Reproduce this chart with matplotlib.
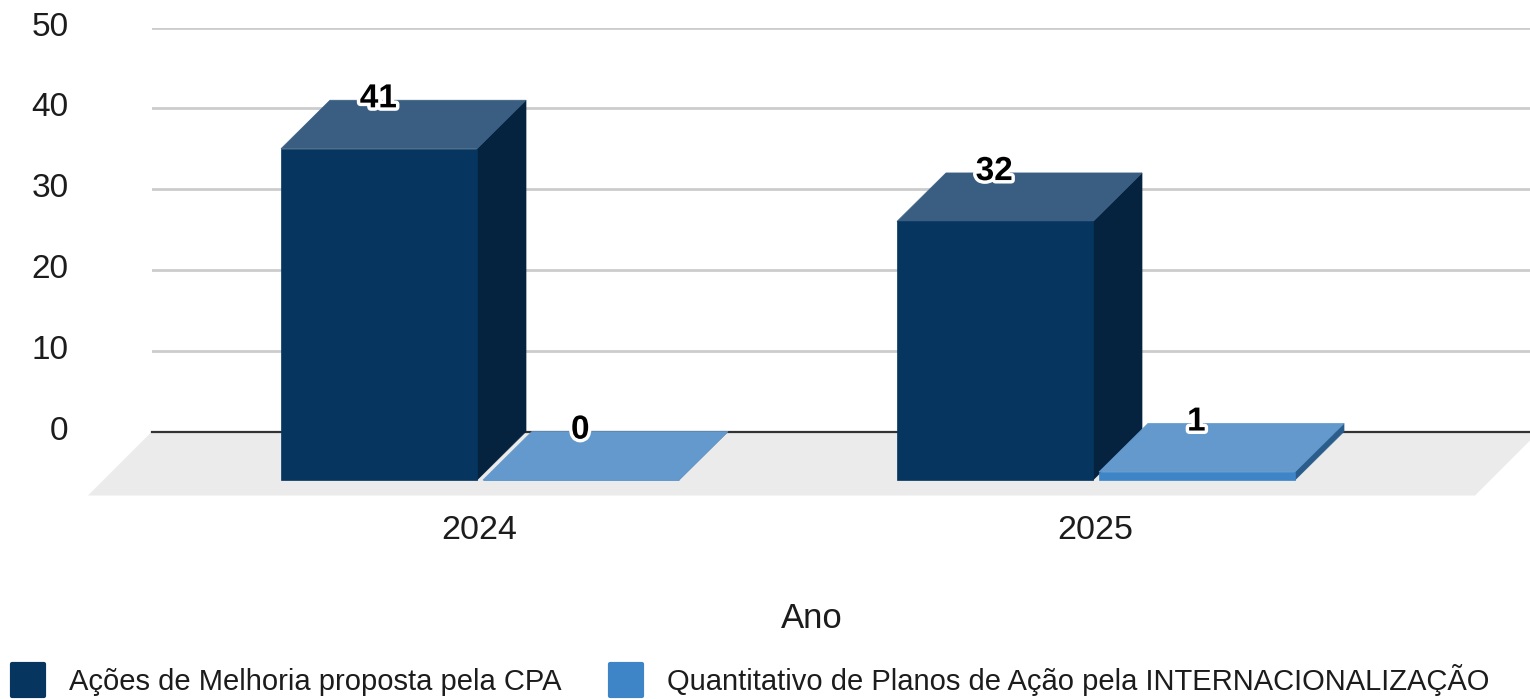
#!/usr/bin/python3
# -*- coding: utf-8 -*-
import matplotlib
matplotlib.use('Agg')
import matplotlib.pyplot as plt
import matplotlib.patheffects as pe
from matplotlib.lines import Line2D
from matplotlib.markers import MarkerStyle
from matplotlib.patches import Polygon
from matplotlib.transforms import ScaledTranslation

plt.rcParams['font.family'] = ['Liberation Sans', 'DejaVu Sans']

#%% data
anos = ['2024', '2025']
acoes_cpa = [41, 32]
planos_inter = [0, 1]
nome_cpa = 'Ações de Melhoria proposta pela CPA'
nome_inter = 'Quantitativo de Planos de Ação pela INTERNACIONALIZAÇÃO'
y_ticks = [0, 10, 20, 30, 40, 50]

# front, top, side
cores_cpa = ('#063560', '#3a5e82', '#05233f')
cores_inter = ('#3d85c6', '#6399cc', '#2a5d8b')

W, H = 1530, 699
y_zero, y_topo = 431.5, 27.5
fig = plt.figure(figsize=(W / 100, H / 100), dpi=100, facecolor='white')
# plot area = back wall of the 3d box
ax = fig.add_axes([152 / W, 1 - y_zero / H, (W - 152) / W, (y_zero - y_topo) / H])
ax.set_xlim((152 - 480) / 616, (W - 480) / 616)
ax.set_ylim(0, 50)
ax.patch.set_alpha(0)

px_x = 1 / 616           # px to category units
px_y = 50 / (y_zero - y_topo)   # px to value units
largura = 196 * px_x
passo = 202 * px_x
prof_x, prof_y = 49 * px_x, 48.5 * px_y
chao_x, chao_y = 64 * px_x, 64 * px_y


def barra3d(esq, valor, cores):
    dir_ = esq + largura
    base, topo = -prof_y, valor - prof_y
    faces = [
        ([(dir_, base), (dir_ + prof_x, 0), (dir_ + prof_x, valor), (dir_, topo)], cores[2]),
        ([(esq, topo), (dir_, topo), (dir_ + prof_x, valor), (esq + prof_x, valor)], cores[1]),
        ([(esq, base), (dir_, base), (dir_, topo), (esq, topo)], cores[0]),
    ]
    for pts, cor in faces:
        ax.add_patch(Polygon(pts, closed=True, facecolor=cor, edgecolor=cor, lw=0.5,
                             zorder=4, clip_on=False))


def rotulo(x, valor):
    ax.annotate(str(valor), (x, valor), xytext=(-0.5, 1), textcoords='offset points',
                ha='center', va='center', fontsize=24, fontweight='bold', color='black',
                zorder=6, annotation_clip=False,
                path_effects=[pe.withStroke(linewidth=5, foreground='white')])


# floor
x0, x1 = ax.get_xlim()
x1 = x1 + 9 * px_x
ax.add_patch(Polygon([(x0, 0), (x1, 0), (x1 - chao_x, -chao_y), (x0 - chao_x, -chao_y)],
                     closed=True, facecolor='#ebebeb', edgecolor='none', zorder=1, clip_on=False))

ax.yaxis.grid(True, color='#cccccc', lw=2, zorder=2)
ax.set_axisbelow(True)
ax.axhline(0, color='#333333', lw=1.6, zorder=3, clip_on=False)

for i, ano in enumerate(anos):
    esq = i - 199 * px_x
    barra3d(esq, acoes_cpa[i], cores_cpa)
    barra3d(esq + passo, planos_inter[i], cores_inter)
    rotulo(esq + largura / 2, acoes_cpa[i])
    rotulo(esq + passo + largura / 2, planos_inter[i])

for s in ax.spines.values():
    s.set_visible(False)
ax.set_yticks(y_ticks)
ax.set_xticks(range(len(anos)))
ax.set_xticklabels(anos)
ax.tick_params(axis='y', length=0, pad=60, labelsize=24, labelcolor='#1c1c1c')
ax.tick_params(axis='x', length=0, pad=60, labelsize=24.5, labelcolor='#1c1c1c')
for lab in ax.get_yticklabels():
    lab.set_transform(lab.get_transform() + ScaledTranslation(0, 4 / 100, fig.dpi_scale_trans))
for lab in ax.get_xticklabels():
    lab.set_transform(lab.get_transform() + ScaledTranslation(-1 / 100, 0, fig.dpi_scale_trans))

ax.set_xlabel('Ano', fontsize=25, color='#1c1c1c')
ax.xaxis.set_label_coords((812 - 152) / (W - 152), -(618 - y_zero) / (y_zero - y_topo), transform=ax.transAxes)
ax.xaxis.label.set_va('center')

# legend
marcador = MarkerStyle('s', joinstyle='round')
handles = [
    Line2D([], [], ls='none', marker=marcador, ms=23, mew=3, color=cores_cpa[0]),
    Line2D([], [], ls='none', marker=marcador, ms=23, mew=3, color=cores_inter[0]),
]
fig.legend(handles, [nome_cpa, nome_inter], loc='lower left', bbox_to_anchor=(6 / W, 0.0005),
           ncol=2, frameon=False, fontsize=21, labelcolor='#1c1c1c', borderpad=0,
           borderaxespad=0.1, handlelength=1.3, handletextpad=0.75, columnspacing=1.58)

fig.savefig('out.png', dpi=100, facecolor='white')
